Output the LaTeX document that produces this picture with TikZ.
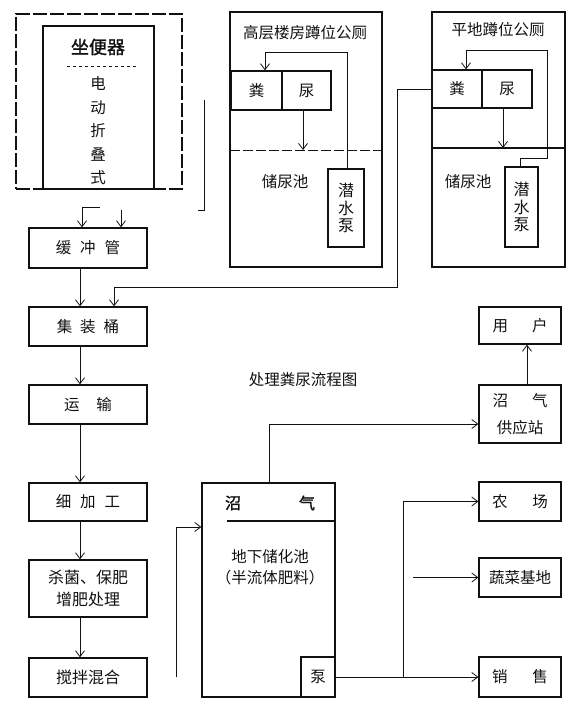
\documentclass[tikz,border=0pt]{standalone}
\usepackage{fontspec}
\setmainfont{Noto Sans CJK SC}
\newfontfamily\cjkbold[FakeBold=1.5]{Noto Sans CJK SC}
\usetikzlibrary{arrows.meta}
\definecolor{ink}{HTML}{111111}
\tikzset{
  every node/.style={font=\fontsize{15.5}{17}\selectfont, text=ink},
  box/.style={draw=ink, line width=1.2pt, inner sep=0pt, align=center},
  sz/.style 2 args={minimum width=#1pt, minimum height=#2pt},
  wall/.style={draw=ink, line width=1.1pt},
  pipe/.style={draw=ink, line width=0.8pt},
  arr/.style={-{Straight Barb[length=6pt,width=9pt]}, draw=ink, line width=0.8pt},
  lbl/.style={inner sep=0pt, align=center},
  stack/.style={font=\fontsize{16}{17.5}\selectfont},
}
\newcommand{\cgap}[1]{\hspace{#1pt}}

\begin{document}
\begin{tikzpicture}[x=1pt, y=-1pt]
  \useasboundingbox (0,0) rectangle (572,709);

  % toilet seat
  \node[box, dash pattern=on 14pt off 3pt, sz={166}{175}] (zuoouter) at (99,101.5) {};
  \node[box, sz={111}{163}] (zuobian) at (98.5,107.5) {};
  \node[lbl, font=\cjkbold\fontsize{18}{19}\selectfont] (zuotitle) at (98,47) {坐便器};
  \draw[pipe, dashed] (67,66) -- (137,66);
  \node[lbl, font=\fontsize{15.5}{23.5}\selectfont] (zuotype) at (98,131) {电\\动\\折\\叠\\式};
  \draw[pipe] (204,100) -- (204,210) -- (198,210);

  % left column
  \node[box, sz={118}{40}] (huanchong) at (88,248) {缓\cgap{9}冲\cgap{9}管};
  \node[box, sz={118}{39}] (jizhuang) at (88,326.5) {集\cgap{8}装\cgap{8}桶};
  \node[box, sz={118}{39}] (yunshu) at (88,404.5) {运\cgap{17}输};
  \node[box, sz={118}{38}] (jiagong) at (88,502) {细\cgap{9}加\cgap{9}工};
  \node[box, sz={118}{57}, font=\fontsize{16}{22}\selectfont] (shajun) at (88,588.5) {杀菌、保肥\\增肥处理};
  \node[box, sz={118}{39}, font=\fontsize{16}{17}\selectfont] (jiaoban) at (88,677.5) {搅拌混合};

  \coordinate (h0) at (100,207);
  \coordinate (h1) at (82,207);
  \coordinate (h2) at (121,210);
  \draw[arr] (h0) -- (h1) -- (h1 |- huanchong.north);
  \draw[arr] (h2) -- (h2 |- huanchong.north);
  \draw[arr] ([xshift=-8pt]huanchong.south) -- ([xshift=-8pt]jizhuang.north);
  \draw[arr] ([xshift=-8pt]jizhuang.south) -- ([xshift=-8pt]yunshu.north);
  \draw[arr] ([xshift=-8pt]yunshu.south) -- ([xshift=-8pt]jiagong.north);
  \draw[arr] ([xshift=-8pt]jiagong.south) -- ([xshift=-8pt]shajun.north);
  \draw[arr] ([xshift=-8pt]shajun.south) -- ([xshift=-8pt]jiaoban.north);

  % high-rise squat toilets
  \node[box, sz={152}{255}] (gouter) at (306,139.5) {};
  \node[lbl] (gtitle) at (305,33) {高层楼房蹲位公厕};
  \node[box, sz={51}{39}] (gfen) at (256.5,90.5) {粪};
  \node[box, sz={49}{39}] (gniao) at (306.5,90.5) {尿};
  \draw[pipe, dash pattern=on 10pt off 3pt] (230,150) -- (382,150);
  \coordinate (gpool) at (303,150);
  \draw[arr] (gniao.south -| gpool) -- (gpool);
  \node[lbl] (gchi) at (285,182) {储尿池};
  \node[box, stack, sz={36}{78}] (gbeng) at (346,208) {潜\\水\\泵};
  \coordinate (gp1) at (347,52);
  \coordinate (gp2) at (265,52);
  \draw[arr] (gbeng.north -| gp1) -- (gp1) -- (gp2) -- (gp2 |- gfen.north);

  % ground-level squat toilets
  \node[box, sz={133}{255}] (pouter) at (498.5,139.5) {};
  \node[lbl] (ptitle) at (498,30) {平地蹲位公厕};
  \node[box, sz={50}{38}] (pfen) at (457,89) {粪};
  \node[box, sz={50}{38}] (pniao) at (507,89) {尿};
  \draw[wall] (432,148) -- (565,148);
  \coordinate (ppool) at (503,148);
  \draw[arr] (pniao.south -| ppool) -- (ppool);
  \node[lbl] (pchi) at (468,182) {储尿池};
  \node[box, stack, sz={33}{80}] (pbeng) at (521.5,207) {潜\\水\\泵};
  \coordinate (pp1) at (520,158);
  \coordinate (pp2) at (547,158);
  \coordinate (pp3) at (547,50);
  \coordinate (pp4) at (466,50);
  \draw[arr] (pbeng.north -| pp1) -- (pp1) -- (pp2) -- (pp3) -- (pp4) -- (pp4 |- pfen.north);

  % feed line to the bucket
  \coordinate (f1) at (397,89);
  \coordinate (f2) at (397,287);
  \coordinate (f3) at (114,287);
  \draw[arr] (pfen.west) -- (f1) -- (f2) -- (f3) -- (f3 |- jizhuang.north);

  \node[lbl] (title) at (303,380) {处理粪尿流程图};

  % digester
  \node[box, sz={133}{214}] (chi) at (268.5,590) {};
  \draw[wall] (227,521) -- (chi.east |- 0,521);
  \node[lbl, font=\cjkbold\fontsize{16}{17}\selectfont] (zhao) at (233,503) {沼};
  \node[lbl, font=\cjkbold\fontsize{16}{17}\selectfont] (qi) at (307,503) {气};
  \node[lbl, font=\fontsize{15.5}{21}\selectfont] (chitext) at (270,567.5) {地下储化池\\（半流体肥料）};
  \node[box, sz={34}{40}] (beng) at (318,677) {泵};
  \coordinate (in0) at (176,677);
  \coordinate (in1) at (176,527);
  \draw[arr] (in0) -- (in1) -- (in1 -| chi.west);

  % right column
  \node[box, sz={82}{37}] (yonghu) at (520,325.5) {用\cgap{24}户};
  \node[box, sz={82}{58}, font=\fontsize{15.5}{27}\selectfont] (zhan) at (520,414) {沼\cgap{24}气\\供应站};
  \node[box, sz={82}{39}] (nongchang) at (520,501.5) {农\cgap{25}场};
  \node[box, sz={82}{39}] (shucai) at (520,577.5) {蔬菜基地};
  \node[box, sz={82}{40}] (xiaoshou) at (520,677) {销\cgap{25}售};

  \draw[arr] ([xshift=7pt]zhan.north) -- ([xshift=7pt]yonghu.south);
  \coordinate (gas) at (269,424);
  \draw[arr] (gas |- chi.north) -- (gas) -- (gas -| zhan.west);
  \draw[arr] (beng.east) -- (xiaoshou.west);
  \coordinate (fork) at (403,677);
  \draw[arr] (fork) |- (nongchang.west);
  \coordinate (veg) at (413,577.5);
  \draw[arr] (veg) -- (veg -| shucai.west);
\end{tikzpicture}
\end{document}
